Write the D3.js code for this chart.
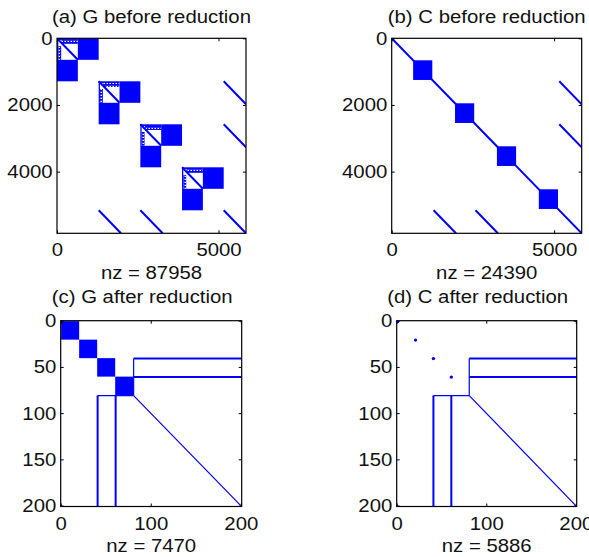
<!DOCTYPE html>
<html>
<head>
<meta charset="utf-8">
<script src="https://cdn.jsdelivr.net/npm/d3@7"></script>
<style>
  body { margin: 0; background: #fff; }
  svg { display: block; }
  .lbl { font-family: "Liberation Sans", Arial, sans-serif; font-size: 18.5px; fill: #111; }
</style>
</head>
<body>
<svg id="chart" width="589" height="557"></svg>
<script>
// ---- data (matrix index space) ----
var titles = ["(a) G before reduction", "(b) C before reduction", "(c) G after reduction", "(d) C after reduction"];
var nzCounts = [87958, 24390, 7470, 5886];

var sizeBefore = 5850;
var sizeAfter = 201;
var ticksBeforeX = [0, 5000];
var ticksBeforeY = [0, 2000, 4000];
var ticksAfterX = [0, 100, 200];
var ticksAfterY = [0, 50, 100, 150, 200];

// [row0, row1, col0, col1]
var gBeforeDense = [
  [0, 645, 645, 1290], [645, 1290, 0, 645], [0, 50, 0, 645], [0, 645, 0, 40],
  [1290, 1935, 1935, 2580], [1935, 2580, 1290, 1935], [1290, 1340, 1290, 1935], [1290, 1935, 1290, 1330],
  [2580, 3225, 3225, 3870], [3225, 3870, 2580, 3225], [2580, 2630, 2580, 3225], [2580, 3225, 2580, 2620],
  [3870, 4515, 4515, 5160], [4515, 5160, 3870, 4515], [3870, 3920, 3870, 4515], [3870, 4515, 3870, 3910]
];
var gBeforeSpeckle = [
  [50, 170, 140, 645], [230, 645, 40, 130],
  [1340, 1460, 1430, 1935], [1520, 1935, 1330, 1420],
  [2630, 2750, 2720, 3225], [2810, 3225, 2620, 2710],
  [3920, 4040, 4010, 4515], [4100, 4515, 3910, 4000]
];
// [row0, col0, row1, col1]
var gBeforeLines = [
  [0, 0, 645, 645], [1290, 1290, 1935, 1935], [2580, 2580, 3225, 3225],
  [3870, 3870, 4515, 4515], [5160, 5160, 5850, 5850]
];
var couplingBefore = [
  [5160, 1290, 5850, 1980], [5160, 2580, 5850, 3270],
  [1290, 5160, 1980, 5850], [2580, 5160, 3270, 5850]
];
var cBeforeDense = [
  [660, 1250, 660, 1250], [1950, 2540, 1950, 2540],
  [3240, 3830, 3240, 3830], [4530, 5120, 4530, 5120]
];
var cBeforeLines = [[0, 0, 5850, 5850]];

var gAfterDense = [[1, 20, 1, 20], [21, 40, 21, 40], [41, 60, 41, 60], [61, 80, 61, 80]];
var afterThick = [[41, 81, 41, 201], [61, 81, 61, 201], [81, 41, 201, 41], [81, 61, 201, 61]];
var afterThin = [[41, 81, 81, 81], [81, 41, 81, 81], [81, 81, 200, 200]];
var cAfterDots = [[1, 1], [21, 21], [41, 41], [61, 61]];

// ---- layout ----
var frames = [
  {x0: 57, x1: 246, y0: 38.3, y1: 233.3, titleY: 22.5, titleDx: 0},
  {x0: 391.7, x1: 581.7, y0: 38.3, y1: 233.3, titleY: 22.5, titleDx: 0},
  {x0: 60.7, x1: 241.7, y0: 320.7, y1: 506.5, titleY: 302.5, titleDx: -9},
  {x0: 396.7, x1: 576.7, y0: 320.7, y1: 506.5, titleY: 302.5, titleDx: -9}
];
var blue = "#0000ff";
var stretch = "scale(1.1,1)";

var svg = d3.select("#chart");
var defs = svg.append("defs");
var pat = defs.append("pattern")
  .attr("id", "speck")
  .attr("width", 3).attr("height", 3)
  .attr("patternUnits", "userSpaceOnUse");
pat.append("rect").attr("width", 3).attr("height", 1.8).attr("fill", blue);
pat.append("rect").attr("y", 1.8).attr("width", 1.5).attr("height", 1.2).attr("fill", blue);

function drawPanel(i, n, xt, yt, layers)
{
  var f = frames[i];
  var xs = d3.scaleLinear().domain([0, n]).range([f.x0, f.x1]);
  var ys = d3.scaleLinear().domain([0, n]).range([f.y0, f.y1]);

  defs.append("clipPath").attr("id", "clip" + i)
    .append("rect")
    .attr("x", f.x0).attr("y", f.y0)
    .attr("width", f.x1 - f.x0).attr("height", f.y1 - f.y0);

  var g = svg.append("g").attr("clip-path", "url(#clip" + i + ")");

  var half = n === sizeAfter ? 0.5 : 0;

  function rects(data, fill)
  {
    g.append("g").selectAll("rect")
      .data(data)
      .enter()
      .append("rect")
      .attr("x", function(d) { return xs(d[2] - half); })
      .attr("y", function(d) { return ys(d[0] - half); })
      .attr("width", function(d) { return xs(d[3] + half) - xs(d[2] - half); })
      .attr("height", function(d) { return ys(d[1] + half) - ys(d[0] - half); })
      .attr("fill", fill);
  }

  function lines(data, w)
  {
    g.append("g").selectAll("line")
      .data(data)
      .enter()
      .append("line")
      .attr("x1", function(d) { return xs(d[1]); })
      .attr("y1", function(d) { return ys(d[0]); })
      .attr("x2", function(d) { return xs(d[3]); })
      .attr("y2", function(d) { return ys(d[2]); })
      .attr("stroke", blue)
      .attr("stroke-width", w);
  }

  if (layers.speckle) rects(layers.speckle, "url(#speck)");
  if (layers.dense) rects(layers.dense, blue);
  if (layers.lines) lines(layers.lines, 2);
  if (layers.thick) lines(layers.thick, 2);
  if (layers.thin) lines(layers.thin, 1.2);

  // box
  svg.append("rect")
    .attr("x", f.x0).attr("y", f.y0)
    .attr("width", f.x1 - f.x0).attr("height", f.y1 - f.y0)
    .attr("fill", "none")
    .attr("stroke", "#000")
    .attr("stroke-width", 1.2);

  // spy dots sit on top, not clipped
  if (layers.dots)
  {
    svg.append("g").selectAll("circle")
      .data(layers.dots)
      .enter()
      .append("circle")
      .attr("cx", function(d) { return xs(d[1]); })
      .attr("cy", function(d) { return ys(d[0]); })
      .attr("r", 1.7)
      .attr("fill", blue);
  }

  // axes (ticks point inward like matlab)
  var fmt = d3.format("d");
  var bottom = d3.axisBottom(xs).tickValues(xt).tickFormat(fmt).tickSize(-3).tickSizeOuter(0).tickPadding(10);
  var top = d3.axisTop(xs).tickValues(xt).tickSize(-3).tickSizeOuter(0).tickFormat("");
  var left = d3.axisLeft(ys).tickValues(yt).tickFormat(fmt).tickSize(-3).tickSizeOuter(0).tickPadding(4);
  var right = d3.axisRight(ys).tickValues(yt).tickSize(-3).tickSizeOuter(0).tickFormat("");

  function place(axis, tr)
  {
    var a = svg.append("g").attr("transform", tr).call(axis);
    a.select(".domain").remove();
    a.selectAll("line").attr("stroke", "#000");
    a.selectAll("text")
      .attr("class", "lbl")
      .attr("fill", null)
      .attr("transform", stretch);
    a.attr("font-family", null).attr("font-size", null);
  }
  place(bottom, "translate(0," + f.y1 + ")");
  place(top, "translate(0," + f.y0 + ")");
  place(left, "translate(" + f.x0 + ",0)");
  place(right, "translate(" + f.x1 + ",0)");

  var cx = (f.x0 + f.x1) / 2;
  svg.append("text")
    .attr("class", "lbl")
    .attr("text-anchor", "middle")
    .attr("transform", "translate(" + (cx + f.titleDx) + "," + f.titleY + ") " + stretch)
    .text(titles[i]);

  svg.append("text")
    .attr("class", "lbl")
    .attr("text-anchor", "middle")
    .attr("transform", "translate(" + cx + "," + (f.y1 + 45.5) + ") " + stretch)
    .text("nz = " + nzCounts[i]);
}

drawPanel(0, sizeBefore, ticksBeforeX, ticksBeforeY,
  {speckle: gBeforeSpeckle, dense: gBeforeDense, lines: gBeforeLines.concat(couplingBefore)});
drawPanel(1, sizeBefore, ticksBeforeX, ticksBeforeY,
  {dense: cBeforeDense, lines: cBeforeLines.concat(couplingBefore)});
drawPanel(2, sizeAfter, ticksAfterX, ticksAfterY,
  {dense: gAfterDense, thick: afterThick, thin: afterThin});
drawPanel(3, sizeAfter, ticksAfterX, ticksAfterY,
  {dots: cAfterDots, thick: afterThick, thin: afterThin});
</script>
</body>
</html>
